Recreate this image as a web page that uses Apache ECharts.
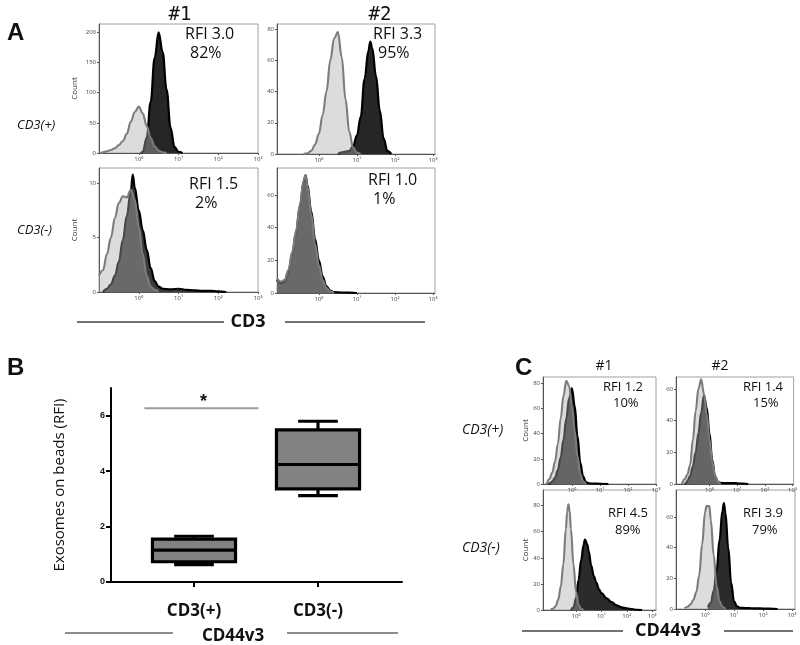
<!DOCTYPE html>
<html><head><meta charset="utf-8">
<script src="https://cdn.jsdelivr.net/npm/echarts@6/dist/echarts.min.js"></script>
<style>html,body{margin:0;padding:0;background:#fff}#c{width:800px;height:645px}</style>
</head><body><div id="c"></div>
<script>
// ===== DATA =====
// Panel A histograms: x = log10(CD3 fluorescence), y = count
const a1pIsoX = [-0.95,-0.9,-0.8,-0.7,-0.6,-0.5,-0.4,-0.3,-0.2,-0.1,0,0.1,0.2,0.3,0.4,0.5,0.6,0.7];
const a1pIsoY = [0,1,3,5,8,13,20,32,52,68,77,66,45,25,11,4,1,0];
const a1pCd3X = [0.05,0.1,0.2,0.3,0.4,0.5,0.6,0.7,0.8,0.9,1.0,1.1];
const a1pCd3Y = [0,2,25,85,158,200,168,105,42,10,2,0];

const a2pIsoX = [-0.4,-0.3,-0.2,-0.1,0,0.1,0.2,0.3,0.4,0.5,0.6,0.7,0.8,0.9,1.0,1.1];
const a2pIsoY = [0,0.5,2,6,13,25,40,60,74,78,62,35,14,4,1,0];
const a2pCd3X = [0.5,0.6,0.7,0.8,0.9,1.0,1.1,1.2,1.3,1.35,1.4,1.5,1.6,1.7,1.8,1.9];
const a2pCd3Y = [0,1,1.5,2,5,12,24,48,66,72,68,50,28,10,2,0];

const a1nIsoX = [-1,-0.9,-0.8,-0.7,-0.6,-0.5,-0.4,-0.3,-0.2,-0.1,0,0.1,0.2,0.3,0.4,0.5];
const a1nIsoY = [1.5,2,3.5,5,6.8,8.2,8.8,8.7,9.4,8.5,6,3.5,1.5,0.5,0.2,0];
const a1nCd3X = [-0.9,-0.8,-0.7,-0.6,-0.5,-0.4,-0.3,-0.2,-0.15,-0.1,0,0.1,0.2,0.3,0.4,0.5,0.6,0.8,1.0,1.2,1.4,1.6,1.8,2.0,2.2];
const a1nCd3Y = [0,0.3,0.7,1.5,2.8,4.8,7,9.3,10.8,9.6,7.5,5.7,3.9,2.2,1,0.5,0.3,0.25,0.3,0.2,0.15,0.1,0.1,0.05,0];

const a2nIsoX = [-1.1,-1.0,-0.9,-0.8,-0.7,-0.6,-0.5,-0.4,-0.35,-0.3,-0.2,-0.1,0,0.1,0.2,0.3,0.4];
const a2nIsoY = [9,7,8,14,25,38,54,69,72,65,48,30,17,8,3,1,0];
const a2nCd3X = [-1.1,-1.0,-0.9,-0.8,-0.7,-0.6,-0.5,-0.4,-0.35,-0.3,-0.2,-0.1,0,0.1,0.2,0.3,0.4,0.6,0.8,1.0];
const a2nCd3Y = [8,6,7,13,24,37,53,68,72,66,50,33,20,10,4,1.5,0.5,0.3,0.2,0];

// Panel C histograms: x = log10(CD44v3 fluorescence), y = count
const c1pIsoX = [-0.9,-0.8,-0.7,-0.6,-0.5,-0.4,-0.3,-0.2,-0.1,0,0.1,0.2,0.3,0.4,0.5];
const c1pIsoY = [0,4,9,18,32,52,70,82,78,62,42,22,8,2,0];
const c1pCd3X = [-0.85,-0.8,-0.7,-0.6,-0.5,-0.4,-0.3,-0.2,-0.1,0,0.1,0.2,0.3,0.4,0.5,0.6,0.8,1.0,1.3];
const c1pCd3Y = [0,0.5,2,5,11,21,35,52,68,76,62,38,17,6,1.5,0.5,0.3,0.2,0];

const c2pIsoX = [-1.0,-0.9,-0.8,-0.7,-0.6,-0.5,-0.4,-0.3,-0.2,-0.1,0,0.1,0.2,0.3,0.4];
const c2pIsoY = [0,3,6,12,28,46,60,66,57,44,28,14,5,1.5,0];
const c2pCd3X = [-0.9,-0.85,-0.8,-0.7,-0.6,-0.5,-0.4,-0.3,-0.2,-0.1,0,0.1,0.2,0.3,0.4,0.6,0.8,1.0,1.2,1.4];
const c2pCd3Y = [0,0.5,2,5,11,20,32,45,56,48,32,15,5,1.5,0.7,0.5,0.6,0.4,0.2,0];

const c1nIsoX = [-1.0,-0.9,-0.8,-0.7,-0.6,-0.5,-0.4,-0.35,-0.3,-0.25,-0.2,-0.1,0,0.1,0.2,0.3];
const c1nIsoY = [0.5,1,3,8,18,35,62,75,81,76,62,35,14,4,1,0];
const c1nCd3X = [-0.2,-0.1,0,0.1,0.2,0.3,0.35,0.45,0.5,0.6,0.7,0.8,0.9,1.0,1.2,1.4,1.6,1.8,2.0,2.2,2.4,2.6];
const c1nCd3Y = [0,2,9,23,38,50,54,50,45,34,26,21,16,13,9,6,3.5,2,1.2,0.6,0.2,0];

const c2nIsoX = [-0.7,-0.6,-0.5,-0.4,-0.3,-0.2,-0.1,0,0.05,0.15,0.2,0.3,0.4,0.5,0.6,0.7];
const c2nIsoY = [0.5,1.5,3,6,11,22,42,63,67,67,58,35,15,5,1.5,0];
const c2nCd3X = [0.1,0.2,0.3,0.4,0.5,0.6,0.65,0.7,0.8,0.9,1.0,1.1,1.2,1.4,1.6,1.8,2.0,2.2,2.5];
const c2nCd3Y = [1,4,12,25,45,64,69,63,40,17,5,1.8,0.8,0.6,0.5,0.4,0.3,0.2,0];

// Tick labels
const logDecades = [0,1,2,3];
const ticksA1p = [0,50,100,150,200];
const ticksA2p = [0,20,40,60,80];
const ticksA1n = [0,5,10];
const ticksA2n = [0,20,40,60];
const ticksC1p = [0,20,40,60,80];
const ticksC2p = [0,20,40,60];
const ticksC1n = [0,20,40,60,80];
const ticksC2n = [0,20,40,60];

// Panel B boxplot (RFI)
const bCategories = ['CD3(+)','CD3(-)'];
const bMin = [0.63, 3.12];
const bQ1 = [0.73, 3.36];
const bMed = [1.15, 4.24];
const bQ3 = [1.55, 5.49];
const bMax = [1.65, 5.80];
const bTicks = [0,2,4,6];
const bSigLevel = 6.27;

// Annotation texts
const rfiA = ['RFI 3.0','82%','RFI 3.3','95%','RFI 1.5','2%','RFI 1.0','1%'];
const rfiC = ['RFI 1.2','10%','RFI 1.4','15%','RFI 4.5','89%','RFI 3.9','79%'];

// ===== LAYOUT =====
const sup = {0:'⁰',1:'¹',2:'²',3:'³'};
const panels = [
  {grid:{left:99,top:24,width:159,height:129}, x:[-1,3], yMax:214, ticks:ticksA1p, iso:[a1pIsoX,a1pIsoY], pos:[a1pCd3X,a1pCd3Y], dark:'#262626', name:'Count', gap:20},
  {grid:{left:277,top:24,width:158,height:130}, x:[-1.1,3.05], yMax:83.2, ticks:ticksA2p, iso:[a2pIsoX,a2pIsoY], pos:[a2pCd3X,a2pCd3Y], dark:'#262626', name:'', gap:0},
  {grid:{left:99,top:168,width:159,height:124}, x:[-1,3], yMax:11.4, ticks:ticksA1n, iso:[a1nIsoX,a1nIsoY], pos:[a1nCd3X,a1nCd3Y], dark:'#3a3a3a', name:'Count', gap:20},
  {grid:{left:277,top:168,width:158,height:125}, x:[-1.1,3.05], yMax:76.5, ticks:ticksA2n, iso:[a2nIsoX,a2nIsoY], pos:[a2nCd3X,a2nCd3Y], dark:'#3a3a3a', name:'', gap:0},
  {grid:{left:543,top:377,width:113,height:107}, x:[-1.03,3], yMax:85, ticks:ticksC1p, iso:[c1pIsoX,c1pIsoY], pos:[c1pCd3X,c1pCd3Y], dark:'#333', name:'Count', gap:9},
  {grid:{left:676,top:377,width:119,height:107}, x:[-1.21,3.04], yMax:67.5, ticks:ticksC2p, iso:[c2pIsoX,c2pIsoY], pos:[c2pCd3X,c2pCd3Y], dark:'#333', name:'', gap:0},
  {grid:{left:543,top:490,width:113,height:120}, x:[-1.3,3.15], yMax:92, ticks:ticksC1n, iso:[c1nIsoX,c1nIsoY], pos:[c1nCd3X,c1nCd3Y], dark:'#2b2b2b', name:'Count', gap:9},
  {grid:{left:676,top:490,width:119,height:119}, x:[-1,3.1], yMax:77.5, ticks:ticksC2n, iso:[c2nIsoX,c2nIsoY], pos:[c2nCd3X,c2nCd3Y], dark:'#2b2b2b', name:'', gap:0}
];

const grids = [], xAxes = [], yAxes = [], series = [];
const zip = (xs, ys) => xs.map((x, i) => [x, ys[i]]);

panels.forEach((p, i) => {
  grids.push(Object.assign({show:true, borderColor:'#a0a0a0', borderWidth:1, backgroundColor:'#fff'}, p.grid));
  xAxes.push({
    type:'value', gridIndex:i, min:p.x[0], max:p.x[1],
    axisLine:{show:true, onZero:false, lineStyle:{color:'#555', width:1}},
    axisTick:{show:true, length:2, customValues:logDecades, lineStyle:{color:'#555'}},
    axisLabel:{show:true, customValues:logDecades, fontSize:6, color:'#444', margin:3,
      formatter:v => '10' + (sup[Math.round(v)] || '')},
    splitLine:{show:false}
  });
  yAxes.push({
    type:'value', gridIndex:i, min:0, max:p.yMax,
    name:p.name, nameLocation:'middle', nameGap:p.gap, nameRotate:90,
    nameTextStyle:{fontSize:8, color:'#333'},
    axisLine:{show:true, onZero:false, lineStyle:{color:'#555', width:1}},
    axisTick:{show:true, length:2, customValues:p.ticks, lineStyle:{color:'#555'}},
    axisLabel:{show:true, customValues:p.ticks, fontSize:6, color:'#444', margin:3},
    splitLine:{show:false}
  });
  series.push({
    type:'line', xAxisIndex:i, yAxisIndex:i, data:zip(p.pos[0], p.pos[1]),
    smooth:0.4, smoothMonotone:'x', symbol:'none', silent:true, z:2,
    lineStyle:{color:'#000', width:2.2}, areaStyle:{color:p.dark, opacity:1}
  });
  series.push({
    type:'line', xAxisIndex:i, yAxisIndex:i, data:zip(p.iso[0], p.iso[1]),
    smooth:0.4, smoothMonotone:'x', symbol:'none', silent:true, z:3,
    lineStyle:{color:'#7c7c7c', width:2.1}, areaStyle:{color:'rgba(172,172,172,0.42)', opacity:1}
  });
});

// Panel B: outer axes grid and box grid
const gB = grids.length;
grids.push({left:111, top:388, width:291, height:194, show:false});
xAxes.push({type:'value', gridIndex:gB, min:0, max:1, axisLine:{show:true, onZero:false, lineStyle:{color:'#000', width:2}},
  axisTick:{show:false}, axisLabel:{show:false}, splitLine:{show:false}});
yAxes.push({type:'value', gridIndex:gB, min:0, max:7,
  name:'Exosomes on beads (RFI)', nameLocation:'middle', nameGap:44, nameRotate:90,
  nameTextStyle:{fontSize:15, color:'#111', fontFamily:'Open Sans'},
  axisLine:{show:true, onZero:false, lineStyle:{color:'#000', width:2}},
  axisTick:{show:true, length:5, customValues:bTicks, lineStyle:{color:'#000', width:2}},
  axisLabel:{show:true, customValues:bTicks, fontSize:9, fontWeight:'bold', color:'#111', margin:6, fontFamily:'Liberation Sans'},
  splitLine:{show:false}});
const gBox = grids.length;
grids.push({left:132, top:388, width:248, height:194, show:false});
xAxes.push({type:'category', gridIndex:gBox, data:bCategories, boundaryGap:true,
  axisLine:{show:false}, axisTick:{show:true, alignWithLabel:true, length:5, lineStyle:{color:'#000', width:2}},
  axisLabel:{fontSize:17, fontWeight:'bold', color:'#111', margin:21, fontFamily:'Open Sans'}, splitLine:{show:false}});
yAxes.push({type:'value', gridIndex:gBox, min:0, max:7, show:false});

const boxData = bCategories.map((c, i) => [i, bMin[i], bQ1[i], bMed[i], bQ3[i], bMax[i]]);
series.push({
  type:'custom', xAxisIndex:gBox, yAxisIndex:gBox, data:boxData, silent:true, z:5,
  encode:{x:0, y:[1,2,3,4,5]},
  renderItem:(params, api) => {
    const c = api.value(0);
    const lo = api.coord([c, api.value(1)]), q1 = api.coord([c, api.value(2)]),
          md = api.coord([c, api.value(3)]), q3 = api.coord([c, api.value(4)]),
          hi = api.coord([c, api.value(5)]);
    const band = api.size([1, 0])[0];
    const bw = band * 0.67, cw = band * 0.32, x = lo[0];
    const st = {stroke:'#000', lineWidth:3.2};
    return {type:'group', children:[
      {type:'line', shape:{x1:x, y1:hi[1], x2:x, y2:q3[1]}, style:st},
      {type:'line', shape:{x1:x, y1:q1[1], x2:x, y2:lo[1]}, style:st},
      {type:'line', shape:{x1:x-cw/2, y1:hi[1], x2:x+cw/2, y2:hi[1]}, style:st},
      {type:'line', shape:{x1:x-cw/2, y1:lo[1], x2:x+cw/2, y2:lo[1]}, style:st},
      {type:'rect', shape:{x:x-bw/2, y:q3[1], width:bw, height:q1[1]-q3[1]}, style:{fill:'#828282', stroke:'#000', lineWidth:3.2}},
      {type:'line', shape:{x1:x-bw/2, y1:md[1], x2:x+bw/2, y2:md[1]}, style:st}
    ]};
  }
});
series.push({
  type:'custom', xAxisIndex:gBox, yAxisIndex:gBox, data:[[0, bSigLevel]], silent:true, z:5,
  encode:{x:0, y:1},
  renderItem:(params, api) => {
    const p = api.coord([api.value(0), api.value(1)]);
    const band = api.size([1, 0])[0];
    const x1 = p[0] - band * 0.40, x2 = p[0] + band * 0.52;
    return {type:'group', children:[
      {type:'line', shape:{x1:x1, y1:p[1], x2:x2, y2:p[1]}, style:{stroke:'#9a9a9a', lineWidth:2}},
      {type:'text', style:{text:'*', x:(x1+x2)/2 + 2, y:p[1] + 3, align:'center', verticalAlign:'bottom',
        font:'bold 18px "Liberation Sans"', fill:'#111'}}
    ]};
  }
});

// ===== TEXT / DECORATION =====
const T = (text, x, y, font, align) => ({type:'text', silent:true,
  style:{text:text, x:x, y:y, font:font, fill:'#111', align:align || 'left', verticalAlign:'middle'}});
const L = (x1, y1, x2, y2, color) => ({type:'line', silent:true, shape:{x1, y1, x2, y2}, style:{stroke:color || '#444', lineWidth:1.5}});
const fA = '16px "Open Sans"', fC = '13px "Open Sans"';
const graphics = [
  T('A', 7, 33, 'bold 24px "Liberation Sans"'),
  T('#1', 180, 15, '19px "DejaVu Sans Mono"', 'center'),
  T('#2', 380, 15, '19px "DejaVu Sans Mono"', 'center'),
  T(rfiA[0], 185, 34, fA), T(rfiA[1], 190, 53, fA),
  T(rfiA[2], 373, 34, fA), T(rfiA[3], 378, 53, fA),
  T(rfiA[4], 189, 184, fA), T(rfiA[5], 195, 203, fA),
  T(rfiA[6], 368, 180, fA), T(rfiA[7], 373, 199, fA),
  T('CD3(+)', 17, 125, 'italic 13px "Open Sans"'),
  T('CD3(-)', 17, 230, 'italic 13px "Open Sans"'),
  T('CD3', 248, 322, 'bold 18px "Open Sans"', 'center'),
  L(77, 322, 224, 322), L(285, 322, 425, 322),
  T('B', 7, 368, 'bold 24px "Liberation Sans"'),
  T('CD44v3', 233, 636, 'bold 17px "Open Sans"', 'center'),
  L(65, 633, 173, 633, '#666'), L(287, 633, 398, 633, '#666'),
  T('C', 515, 368, 'bold 24px "Liberation Sans"'),
  T('#1', 604, 366, '14px "Open Sans"', 'center'),
  T('#2', 720, 366, '14px "Open Sans"', 'center'),
  T(rfiC[0], 603, 387, fC), T(rfiC[1], 613, 403, fC),
  T(rfiC[2], 743, 387, fC), T(rfiC[3], 753, 403, fC),
  T(rfiC[4], 608, 513, fC), T(rfiC[5], 615, 530, fC),
  T(rfiC[6], 743, 513, fC), T(rfiC[7], 752, 530, fC),
  T('CD3(+)', 462, 430, 'italic 14px "Open Sans"'),
  T('CD3(-)', 462, 548, 'italic 14px "Open Sans"'),
  T('CD44v3', 668, 631, 'bold 18px "Open Sans"', 'center'),
  L(522, 631, 623, 631), L(724, 631, 793, 631)
];

const chart = echarts.init(document.getElementById('c'), null, {renderer:'canvas'});
chart.setOption({
  backgroundColor:'#fff', animation:false,
  textStyle:{fontFamily:'Open Sans'},
  grid:grids, xAxis:xAxes, yAxis:yAxes, series:series,
  graphic:{elements:graphics}
});
</script></body></html>
